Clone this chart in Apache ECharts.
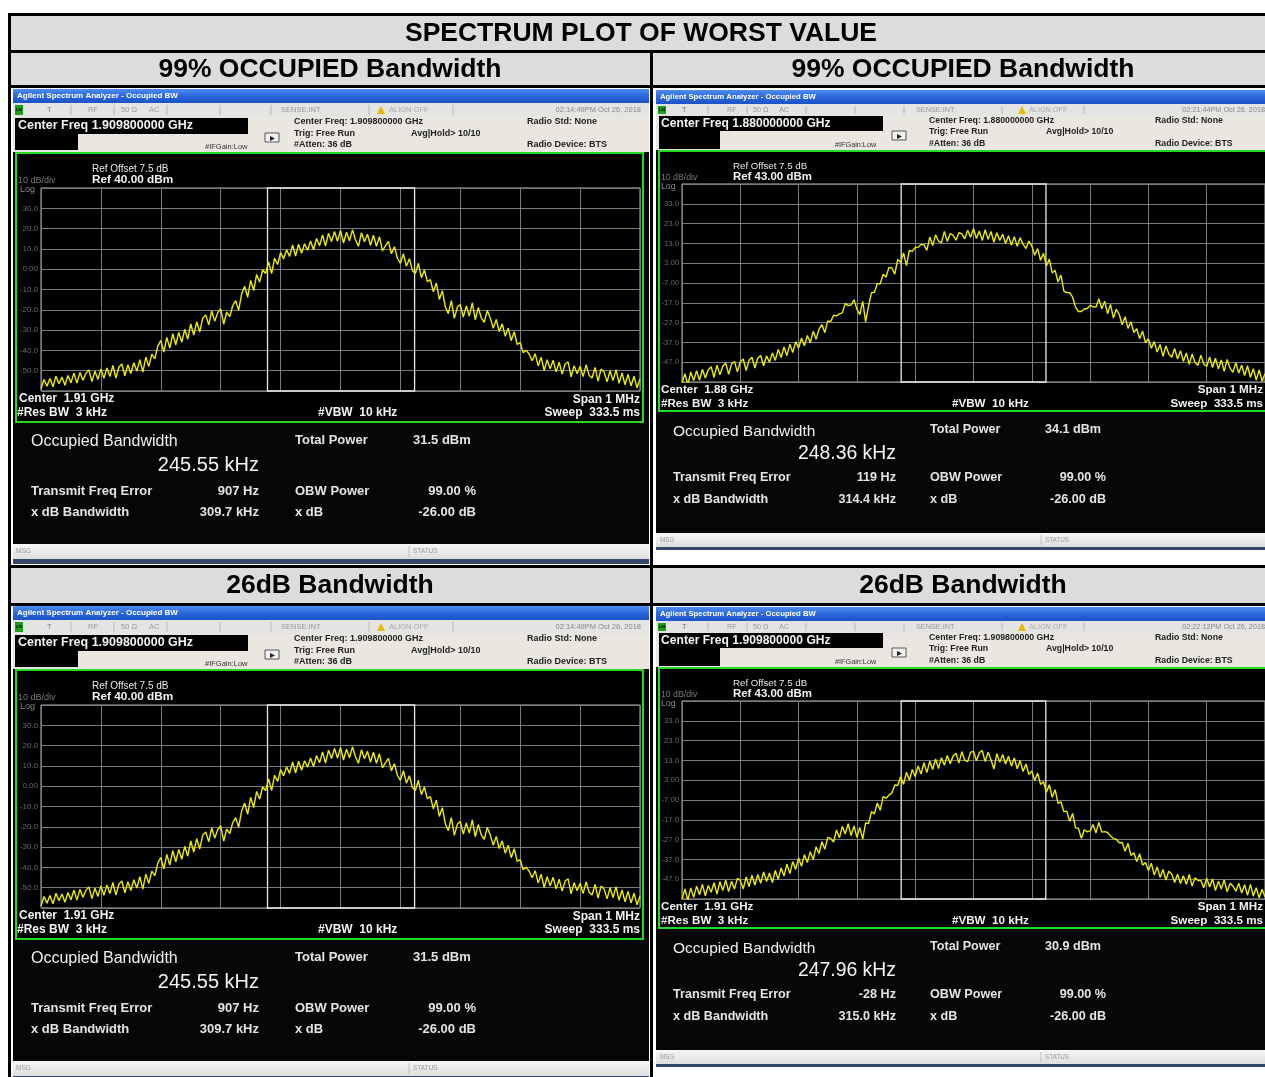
<!DOCTYPE html>
<html>
<head>
<meta charset="utf-8">
<script src="https://cdn.jsdelivr.net/npm/echarts@6/dist/echarts.min.js"></script>
<style>
  html, body { margin: 0; padding: 0; background: #fff; }
  #chart { width: 1265px; height: 1077px; }
</style>
</head>
<body>
<div id="chart"></div>
<script>
// ---- Sweep settings shared by every capture ----
const spanKHz = 1000;
const sweepStepKHz = 5;          // 201 sweep points over 1 MHz

// ---- Table text ----
const tableTitle = 'SPECTRUM PLOT OF WORST VALUE';
const rowTitles = ['99% OCCUPIED Bandwidth', '26dB Bandwidth'];

// ---- Per-capture readings (TL, TR, BL, BR) ----
const centerFreqGHz = [1.9098, 1.88, 1.9098, 1.9098];
const refLevelDbm = [40, 43, 40, 43];
const timestamps = ['02:14:49PM Oct 26, 2018', '02:21:44PM Oct 26, 2018', '02:14:49PM Oct 26, 2018', '02:22:12PM Oct 26, 2018'];
const occupiedBwKHz = [245.55, 248.36, 245.55, 247.96];
const freqErrorHz = [907, 119, 907, -28];
const xdbBwKHz = [309.7, 314.4, 309.7, 315.0];
const totalPowerDbm = [31.5, 34.1, 31.5, 30.9];
const obwPowerPct = [99.00, 99.00, 99.00, 99.00];
const xdbSetting = [-26.00, -26.00, -26.00, -26.00];

// ---- Trace levels in dBm, left to right across the span ----
const trace1909a = [
  -58.9, -54.3, -57.6, -53.8, -57.9, -52.7, -56.4, -53.1, -57.2, -52.4,
  -55.9, -51.2, -56.1, -50.8, -54.7, -51.3, -49.6, -55.4, -50.2, -54.3,
  -49.1, -53.8, -48.6, -52.9, -47.4, -53.6, -48.3, -46.7, -52.5, -47.1,
  -51.4, -46.1, -50.2, -44.6, -50.7, -43.3, -47.9, -41.8, -44.1, -37.9,
  -35.1, -40.8, -33.6, -38.9, -31.8, -37.2, -31.1, -36.0, -29.6, -34.5,
  -27.0, -32.4, -25.9, -30.9, -24.1, -22.5, -27.4, -20.6, -25.6, -21.4,
  -19.5, -27.1, -21.1, -23.4, -18.0, -15.5, -20.2, -12.1, -8.4, -13.9,
  -5.5, -10.5, -2.6, -6.4, -0.4, -2.1, 3.6, -2.2, 5.4, 2.3,
  8.2, 5.1, 9.5, 6.3, 11.9, 6.5, 12.3, 7.9, 12.5, 9.3,
  13.9, 9.6, 15.1, 11.5, 16.9, 11.4, 17.7, 13.6, 18.6, 13.8,
  19.1, 12.9, 18.2, 14.0, 19.4, 14.5, 11.3, 18.0, 13.5, 17.2,
  11.8, 16.7, 11.3, 16.0, 9.0, 11.5, 13.7, 7.6, 11.1, 5.4,
  2.9, 7.6, 1.5, 5.2, -0.6, -2.1, 2.9, -4.2, -0.4, -6.1,
  -5.1, -11.1, -6.8, -14.9, -10.6, -18.5, -21.9, -15.5, -24.2, -18.8,
  -17.4, -23.6, -18.1, -23.1, -16.6, -24.9, -18.9, -24.0, -26.2, -20.3,
  -24.0, -29.1, -24.8, -30.7, -26.9, -33.0, -29.1, -35.2, -30.8, -37.1,
  -36.1, -41.2, -39.9, -41.9, -45.1, -41.6, -47.6, -43.4, -49.9, -44.6,
  -49.1, -44.9, -50.6, -45.8, -51.7, -46.7, -45.6, -53.0, -47.5, -51.5,
  -47.8, -52.9, -47.1, -52.2, -53.6, -48.4, -55.1, -49.2, -50.6, -55.5,
  -50.0, -54.9, -49.5, -56.2, -51.1, -56.9, -51.8, -57.5, -52.7, -58.4,
  -54.1
];
const trace1880 = [
  -57.7, -52.8, -58.5, -52.0, -56.3, -51.3, -56.1, -50.6, -55.0, -50.9,
  -49.3, -54.7, -48.5, -53.4, -49.0, -47.4, -53.1, -47.9, -46.6, -51.9,
  -46.8, -45.4, -51.2, -46.0, -44.5, -49.9, -44.9, -43.6, -48.8, -43.8,
  -47.0, -42.3, -46.1, -40.6, -44.6, -39.3, -43.7, -37.9, -42.1, -36.6,
  -39.9, -34.8, -38.7, -33.5, -37.2, -31.4, -35.4, -30.3, -28.0, -32.1,
  -26.1, -26.5, -23.3, -23.6, -22.6, -22.1, -17.3, -18.4, -18.1, -15.5,
  -20.2, -23.0, -16.3, -26.6, -18.5, -11.9, -11.7, -7.3, -7.4, -2.6,
  -4.0, 0.9, 0.6, -2.5, 4.9, 3.5, 8.2, 1.8, 9.5, 9.0,
  10.9, 11.1, 12.4, 12.4, 9.5, 16.2, 11.9, 17.4, 14.1, 13.3,
  19.1, 14.0, 18.0, 17.1, 14.6, 18.5, 17.8, 15.3, 19.6, 16.1,
  20.6, 15.5, 19.2, 14.4, 19.9, 15.1, 19.0, 13.6, 18.4, 14.5,
  17.6, 12.9, 16.9, 12.1, 16.4, 11.5, 15.9, 12.6, 10.4, 14.2,
  11.7, 7.0, 10.4, 4.5, 8.0, 1.6, 5.1, -1.9, -0.6, -6.5,
  -3.0, -11.1, -11.8, -11.9, -14.1, -19.2, -21.4, -21.4, -20.1, -19.9,
  -18.3, -19.0, -19.2, -14.9, -20.0, -16.2, -22.5, -17.8, -24.7, -20.3,
  -22.9, -28.1, -24.0, -29.9, -26.6, -32.0, -30.1, -35.1, -31.3, -37.2,
  -35.1, -40.0, -36.6, -41.9, -38.0, -44.1, -38.8, -42.9, -44.5, -40.1,
  -45.4, -41.2, -46.6, -42.3, -48.1, -42.9, -47.2, -48.6, -43.5, -47.9,
  -49.2, -44.3, -49.7, -45.0, -50.4, -45.9, -51.6, -45.6, -50.0, -52.1,
  -47.3, -52.5, -48.4, -53.7, -48.8, -54.6, -50.3, -56.0, -50.9, -56.6,
  -52.8
];
const trace1909b = [
  -57.1, -51.9, -57.7, -51.4, -56.2, -50.5, -54.9, -49.6, -55.4, -50.2,
  -53.6, -48.8, -54.5, -48.3, -52.7, -47.5, -53.3, -48.0, -52.0, -46.6,
  -47.6, -51.9, -45.9, -50.7, -45.0, -50.0, -44.6, -49.1, -43.3, -48.2,
  -43.9, -48.7, -42.6, -47.1, -41.3, -45.4, -39.4, -44.2, -38.1, -42.1,
  -36.3, -40.5, -34.6, -38.6, -33.1, -37.1, -30.6, -34.0, -28.1, -31.9,
  -25.9, -26.4, -28.2, -22.1, -26.1, -20.3, -24.2, -19.0, -25.0, -20.1,
  -25.9, -20.8, -26.6, -18.5, -18.9, -12.9, -14.0, -8.5, -12.2, -5.3,
  -6.1, -4.6, -3.4, 0.6, 0.3, 4.7, 0.9, 7.0, 3.0, 8.4,
  4.9, 10.2, 6.1, 11.9, 6.8, 12.6, 8.4, 13.7, 8.9, 14.4,
  10.5, 15.5, 11.3, 15.2, 16.6, 11.6, 17.4, 13.1, 12.4, 17.1,
  17.7, 12.8, 16.9, 18.0, 12.4, 17.2, 13.3, 8.6, 16.4, 12.0,
  16.0, 11.2, 15.1, 10.1, 14.2, 8.8, 12.9, 7.4, 11.2, 5.9,
  7.7, 2.8, 6.6, 0.9, 2.2, -3.1, 0.7, -5.6, -1.8, -8.7,
  -7.9, -12.9, -12.6, -17.7, -13.8, -21.1, -21.3, -26.4, -22.0, -23.1,
  -22.6, -19.4, -23.7, -18.3, -23.2, -23.0, -23.4, -25.1, -26.5, -26.8,
  -28.6, -28.5, -32.9, -28.9, -35.0, -33.6, -38.1, -34.1, -39.9, -38.6,
  -42.6, -38.9, -44.9, -40.8, -46.1, -42.1, -47.4, -43.0, -44.4, -48.7,
  -44.5, -49.2, -45.2, -49.6, -44.6, -50.5, -46.3, -47.7, -47.6, -51.4,
  -46.4, -50.9, -46.9, -52.7, -48.0, -52.0, -47.3, -53.4, -49.1, -50.5,
  -53.1, -49.0, -54.0, -49.8, -55.2, -49.6, -55.5, -51.3, -56.4, -52.1,
  -55.9
];
const traces = [trace1909a, trace1880, trace1909a, trace1909b];

// ---- Screen layouts: the left column captures are drawn a little larger ----
const FF = '"Liberation Sans", Arial, Helvetica, sans-serif';
const font = (w, s) => `${w} ${s}px ${FF}`;

const LAYOUTS = {
  left: {
    s: 1, x0: 13, x1: 649, top: 89, bottom: 564,
    bar: [89, 103], srow: [103, 117], header: [117, 152],
    cfBox: [15, 118, 233, 16], cfBox2: [15, 134, 63, 16], cfText: [18, 126],
    ifgain: [205, 147], icon: [265, 133],
    meta: [294, 122, 134, 145], avg: [411, 134], radio: [527, 122, 145],
    time: [641, 110],
    st: { lxi: 15, T: 47, RF: 88, ohm: 121, AC: 149, sense: 281, tri: 377, align: 384, seps: [71, 114, 167, 220, 271, 369, 453] },
    frame: [16, 153, 627, 269],
    refOff: [92, 169], ref: [92, 180], div: [18, 181], log: [20, 190],
    grid: [41, 188, 599, 203],
    lab: { center: [19, 399], res: [17, 413], vbw: [318, 413], span: [640, 400], sweep: [640, 413] },
    r: { c1: 31, v1: 259, c2: 295, v2a: 413, v2: 476, yOcc: 442, yOccV: 465, yTp: 440, yTfe: 491, yXdb: 512 },
    msg: [544, 559], msgX: 16, statusX: 413, edge: [559, 564]
  },
  right: {
    s: 0.97, x0: 656, x1: 1276, top: 90, bottom: 550,
    bar: [90, 104], srow: [104, 116], header: [116, 150],
    cfBox: [659, 116, 224, 15], cfBox2: [659, 131, 61, 18], cfText: [661, 123.5],
    ifgain: [835, 145], icon: [892, 131],
    meta: [929, 121, 132, 144], avg: [1046, 132], radio: [1155, 121, 144],
    time: [1265, 110],
    st: { lxi: 658, T: 682, RF: 727, ohm: 753, AC: 779, sense: 916, tri: 1018, align: 1024, seps: [708, 747, 806, 855, 904, 1002, 1084] },
    frame: [659, 151, 620, 260],
    refOff: [733, 166], ref: [733, 177], div: [661, 178], log: [661, 187],
    grid: [682, 184, 585, 198],
    lab: { center: [661, 390], res: [661, 404], vbw: [952, 404], span: [1263, 390], sweep: [1263, 404] },
    r: { c1: 673, v1: 896, c2: 930, v2a: 1045, v2: 1106, yOcc: 432, yOccV: 454, yTp: 430, yTfe: 478, yXdb: 500 },
    msg: [533, 547], msgX: 660, statusX: 1045, edge: [547, 550]
  }
};
const panelLayout = ['left', 'right', 'left', 'right'];
const panelShiftY = [0, 0, 517, 517];

// ---- Graphic helpers ----
const G = [];
function rect(x, y, w, h, fill, z = 1, extra = {}) {
  G.push({ type: 'rect', z, silent: true, shape: { x, y, width: w, height: h }, style: Object.assign({ fill }, extra) });
}
function line(x1, y1, x2, y2, stroke, w = 1, z = 2) {
  G.push({ type: 'line', z, silent: true, shape: { x1, y1, x2, y2 }, style: { stroke, lineWidth: w } });
}
function text(t, x, y, f, fill, align = 'left', z = 20) {
  G.push({ type: 'text', z, silent: true, style: { text: t, x, y, font: f, fill, textAlign: align, textVerticalAlign: 'middle' } });
}

// ---- Table frame ----
const GRAY = '#dcdcdc';
const HEAD = font('bold', 26.5);
rect(11, 16, 1260, 34, GRAY);
rect(11, 53, 1260, 32, GRAY);
rect(11, 568, 1260, 35, GRAY);
rect(8, 13, 1265, 3, '#000', 3);
rect(8, 13, 3, 1070, '#000', 3);
rect(11, 50, 1260, 3, '#000', 3);
rect(11, 85, 1260, 3, '#000', 3);
rect(11, 565, 1260, 3, '#000', 3);
rect(11, 603, 1260, 3, '#000', 3);
rect(650, 53, 3, 1030, '#000', 3);
text(tableTitle, 641, 33.5, HEAD, '#000', 'center');
text(rowTitles[0], 330, 69.5, HEAD, '#000', 'center');
text(rowTitles[0], 963, 69.5, HEAD, '#000', 'center');
text(rowTitles[1], 330, 586, HEAD, '#000', 'center');
text(rowTitles[1], 963, 586, HEAD, '#000', 'center');

// ---- One analyzer screen ----
function drawScreen(k) {
  const L = LAYOUTS[panelLayout[k]];
  const dy = panelShiftY[k];
  const s = L.s;
  const W = L.x1 - L.x0;
  const X = L.x0;
  const Y = v => v + dy;

  rect(X, Y(L.top), W, L.bottom - L.top, '#060606', 1);

  // window title bar
  rect(X, Y(L.bar[0]), W, L.bar[1] - L.bar[0], new echarts.graphic.LinearGradient(0, 0, 0, 1, [
    { offset: 0, color: '#4f8cf0' }, { offset: 0.5, color: '#2a68dc' }, { offset: 1, color: '#1c52c4' }
  ]), 2);
  text('Agilent Spectrum Analyzer - Occupied BW', X + 4, Y((L.bar[0] + L.bar[1]) / 2), font('bold', 8 * s), '#fff');

  // instrument status row
  const sy = Y((L.srow[0] + L.srow[1]) / 2);
  rect(X, Y(L.srow[0]), W, L.srow[1] - L.srow[0], '#e4e4e2', 2);
  L.st.seps.forEach(px => line(px, Y(L.srow[0] + 2), px, Y(L.srow[1] - 2), '#b8b8b8', 1, 3));
  rect(L.st.lxi, Y(L.srow[0] + 2), 8, L.srow[1] - L.srow[0] - 4, '#1e9e1e', 3);
  text('LXI', L.st.lxi + 4, sy, font('bold', 4), '#000', 'center');
  const sf = font('normal', 7.5 * s);
  text('T', L.st.T, sy, sf, '#777');
  text('RF', L.st.RF, sy, sf, '#999');
  text('50 \u03A9', L.st.ohm, sy, sf, '#999');
  text('AC', L.st.AC, sy, sf, '#999');
  text('SENSE:INT', L.st.sense, sy, sf, '#999');
  G.push({ type: 'polygon', z: 4, silent: true, shape: { points: [[L.st.tri, sy + 4], [L.st.tri + 4, sy - 4], [L.st.tri + 8, sy + 4]] }, style: { fill: '#e8b800' } });
  text('ALIGN OFF', L.st.align + 5, sy, sf, '#aaa');
  text(timestamps[k], L.time[0], Y(L.time[1]), sf, '#888', 'right');

  // measurement header
  rect(X, Y(L.header[0]), W, L.header[1] - L.header[0], '#e9e7df', 2);
  rect(L.cfBox[0], Y(L.cfBox[1]), L.cfBox[2], L.cfBox[3], '#000', 3);
  rect(L.cfBox2[0], Y(L.cfBox2[1]), L.cfBox2[2], L.cfBox2[3], '#000', 3);
  text('Center Freq ' + centerFreqGHz[k].toFixed(9) + ' GHz', L.cfText[0], Y(L.cfText[1]), font('bold', 12.5 * s), '#f2f2f2');
  const mf = font('bold', 9 * s);
  text('#IFGain:Low', L.ifgain[0], Y(L.ifgain[1]), font('normal', 7.5 * s), '#333');
  rect(L.icon[0], Y(L.icon[1]), 14, 9, '#f4f4f4', 3, { stroke: '#555', lineWidth: 1 });
  G.push({ type: 'polygon', z: 4, silent: true, shape: { points: [[L.icon[0] + 5, Y(L.icon[1] + 3)], [L.icon[0] + 10, Y(L.icon[1] + 5.5)], [L.icon[0] + 5, Y(L.icon[1] + 8)]] }, style: { fill: '#222' } });
  text('Center Freq: ' + centerFreqGHz[k].toFixed(9) + ' GHz', L.meta[0], Y(L.meta[1]), mf, '#222');
  text('Trig: Free Run', L.meta[0], Y(L.meta[2]), mf, '#222');
  text('#Atten: 36 dB', L.meta[0], Y(L.meta[3]), mf, '#222');
  text('Avg|Hold> 10/10', L.avg[0], Y(L.avg[1]), mf, '#222');
  text('Radio Std: None', L.radio[0], Y(L.radio[1]), mf, '#222');
  text('Radio Device: BTS', L.radio[0], Y(L.radio[2]), mf, '#222');

  // trace window frame
  rect(L.frame[0], Y(L.frame[1]), L.frame[2], L.frame[3], '#000', 2, { stroke: '#22dc22', lineWidth: 2 });
  text('Ref Offset 7.5 dB', L.refOff[0], Y(L.refOff[1]), font('normal', 10 * s), '#e8e8e8');
  text('Ref ' + refLevelDbm[k].toFixed(2) + ' dBm', L.ref[0], Y(L.ref[1]), font('bold', 11.8 * s), '#f2f2f2');
  text('10 dB/div', L.div[0], Y(L.div[1]), font('normal', 9 * s), '#7a7a7a');
  text('Log', L.log[0], Y(L.log[1]), font('normal', 9 * s), '#8a8a8a');
  const bf = font('bold', 12 * s);
  text('Center  ' + centerFreqGHz[k].toFixed(2) + ' GHz', L.lab.center[0], Y(L.lab.center[1]), bf, '#f2f2f2');
  text('#Res BW  3 kHz', L.lab.res[0], Y(L.lab.res[1]), bf, '#f2f2f2');
  text('#VBW  10 kHz', L.lab.vbw[0], Y(L.lab.vbw[1]), bf, '#f2f2f2');
  text('Span 1 MHz', L.lab.span[0], Y(L.lab.span[1]), bf, '#f2f2f2', 'right');
  text('Sweep  333.5 ms', L.lab.sweep[0], Y(L.lab.sweep[1]), bf, '#f2f2f2', 'right');

  // measurement results
  const R = L.r;
  const rf = font('bold', 13 * s);
  text('Occupied Bandwidth', R.c1, Y(R.yOcc), font('normal', 16 * s), '#f0f0f0');
  text(occupiedBwKHz[k].toFixed(2) + ' kHz', R.v1, Y(R.yOccV), font('normal', 20 * s), '#f4f4f4', 'right');
  text('Transmit Freq Error', R.c1, Y(R.yTfe), rf, '#e4e4e4');
  text(freqErrorHz[k] + ' Hz', R.v1, Y(R.yTfe), rf, '#e4e4e4', 'right');
  text('x dB Bandwidth', R.c1, Y(R.yXdb), rf, '#e4e4e4');
  text(xdbBwKHz[k].toFixed(1) + ' kHz', R.v1, Y(R.yXdb), rf, '#e4e4e4', 'right');
  text('Total Power', R.c2, Y(R.yTp), rf, '#e4e4e4');
  text(totalPowerDbm[k].toFixed(1) + ' dBm', R.v2a, Y(R.yTp), rf, '#e4e4e4');
  text('OBW Power', R.c2, Y(R.yTfe), rf, '#e4e4e4');
  text(obwPowerPct[k].toFixed(2) + ' %', R.v2, Y(R.yTfe), rf, '#e4e4e4', 'right');
  text('x dB', R.c2, Y(R.yXdb), rf, '#e4e4e4');
  text(xdbSetting[k].toFixed(2) + ' dB', R.v2, Y(R.yXdb), rf, '#e4e4e4', 'right');

  // message / status bar
  rect(X, Y(L.msg[0]), W, L.msg[1] - L.msg[0], new echarts.graphic.LinearGradient(0, 0, 0, 1, [
    { offset: 0, color: '#f6f6f6' }, { offset: 1, color: '#dedede' }
  ]), 2);
  line(L.statusX - 4, Y(L.msg[0] + 2), L.statusX - 4, Y(L.msg[1] - 2), '#c0c0c0', 1, 3);
  text('MSG', L.msgX, Y((L.msg[0] + L.msg[1]) / 2), font('normal', 6.5 * s), '#999');
  text('STATUS', L.statusX, Y((L.msg[0] + L.msg[1]) / 2), font('normal', 6.5 * s), '#999');
  rect(X, Y(L.edge[0]), W, L.edge[1] - L.edge[0], '#34466a', 2);
}
[0, 1, 2, 3].forEach(drawScreen);

// ---- Level label formatting as shown on the analyzer ----
function levelLabel(v) {
  const a = Math.abs(v);
  return a < 10 ? v.toFixed(2) : v.toFixed(1);
}

// ---- Trace plots: one grid per capture, level axis relative to the reference ----
const grids = [], xAxes = [], yAxes = [], series = [];
[0, 1, 2, 3].forEach(k => {
  const L = LAYOUTS[panelLayout[k]];
  const ref = refLevelDbm[k];
  grids.push({
    left: L.grid[0], top: L.grid[1] + panelShiftY[k], width: L.grid[2], height: L.grid[3],
    show: true, borderColor: '#b4b4b4', borderWidth: 1, backgroundColor: 'transparent', z: 6
  });
  xAxes.push({
    type: 'value', gridIndex: k, min: -spanKHz / 2, max: spanKHz / 2, interval: 100, z: 6,
    axisLine: { show: false }, axisTick: { show: false }, axisLabel: { show: false },
    splitLine: { show: true, lineStyle: { color: '#7c7c7c', width: 1 } }
  });
  yAxes.push({
    type: 'value', gridIndex: k, min: -100, max: 0, interval: 10, z: 6,
    axisLine: { show: false }, axisTick: { show: false },
    axisLabel: {
      show: true, margin: 3, color: '#6c6c6c', fontSize: 8 * L.s, fontFamily: FF,
      showMinLabel: false, showMaxLabel: false,
      formatter: v => levelLabel(v + ref)
    },
    splitLine: { show: true, lineStyle: { color: '#7c7c7c', width: 1 } }
  });
  const ctr = freqErrorHz[k] / 1000;
  const half = occupiedBwKHz[k] / 2;
  series.push({
    type: 'line', xAxisIndex: k, yAxisIndex: k, z: 8,
    showSymbol: false, animation: false, silent: true,
    data: traces[k].map((v, i) => [-spanKHz / 2 + i * sweepStepKHz, v - ref]),
    lineStyle: { color: '#ecec00', width: 1.4 },
    markArea: {
      silent: true, z: 7,
      itemStyle: { color: 'rgba(0,0,0,0)', borderColor: '#e8e8e8', borderWidth: 1.3 },
      data: [[{ xAxis: ctr - half, yAxis: 0 }, { xAxis: ctr + half, yAxis: -100 }]]
    }
  });
});

const chart = echarts.init(document.getElementById('chart'), null, { renderer: 'canvas' });
chart.setOption({
  backgroundColor: '#ffffff',
  animation: false,
  grid: grids,
  xAxis: xAxes,
  yAxis: yAxes,
  series: series,
  graphic: { elements: G }
});
</script>
</body>
</html>
